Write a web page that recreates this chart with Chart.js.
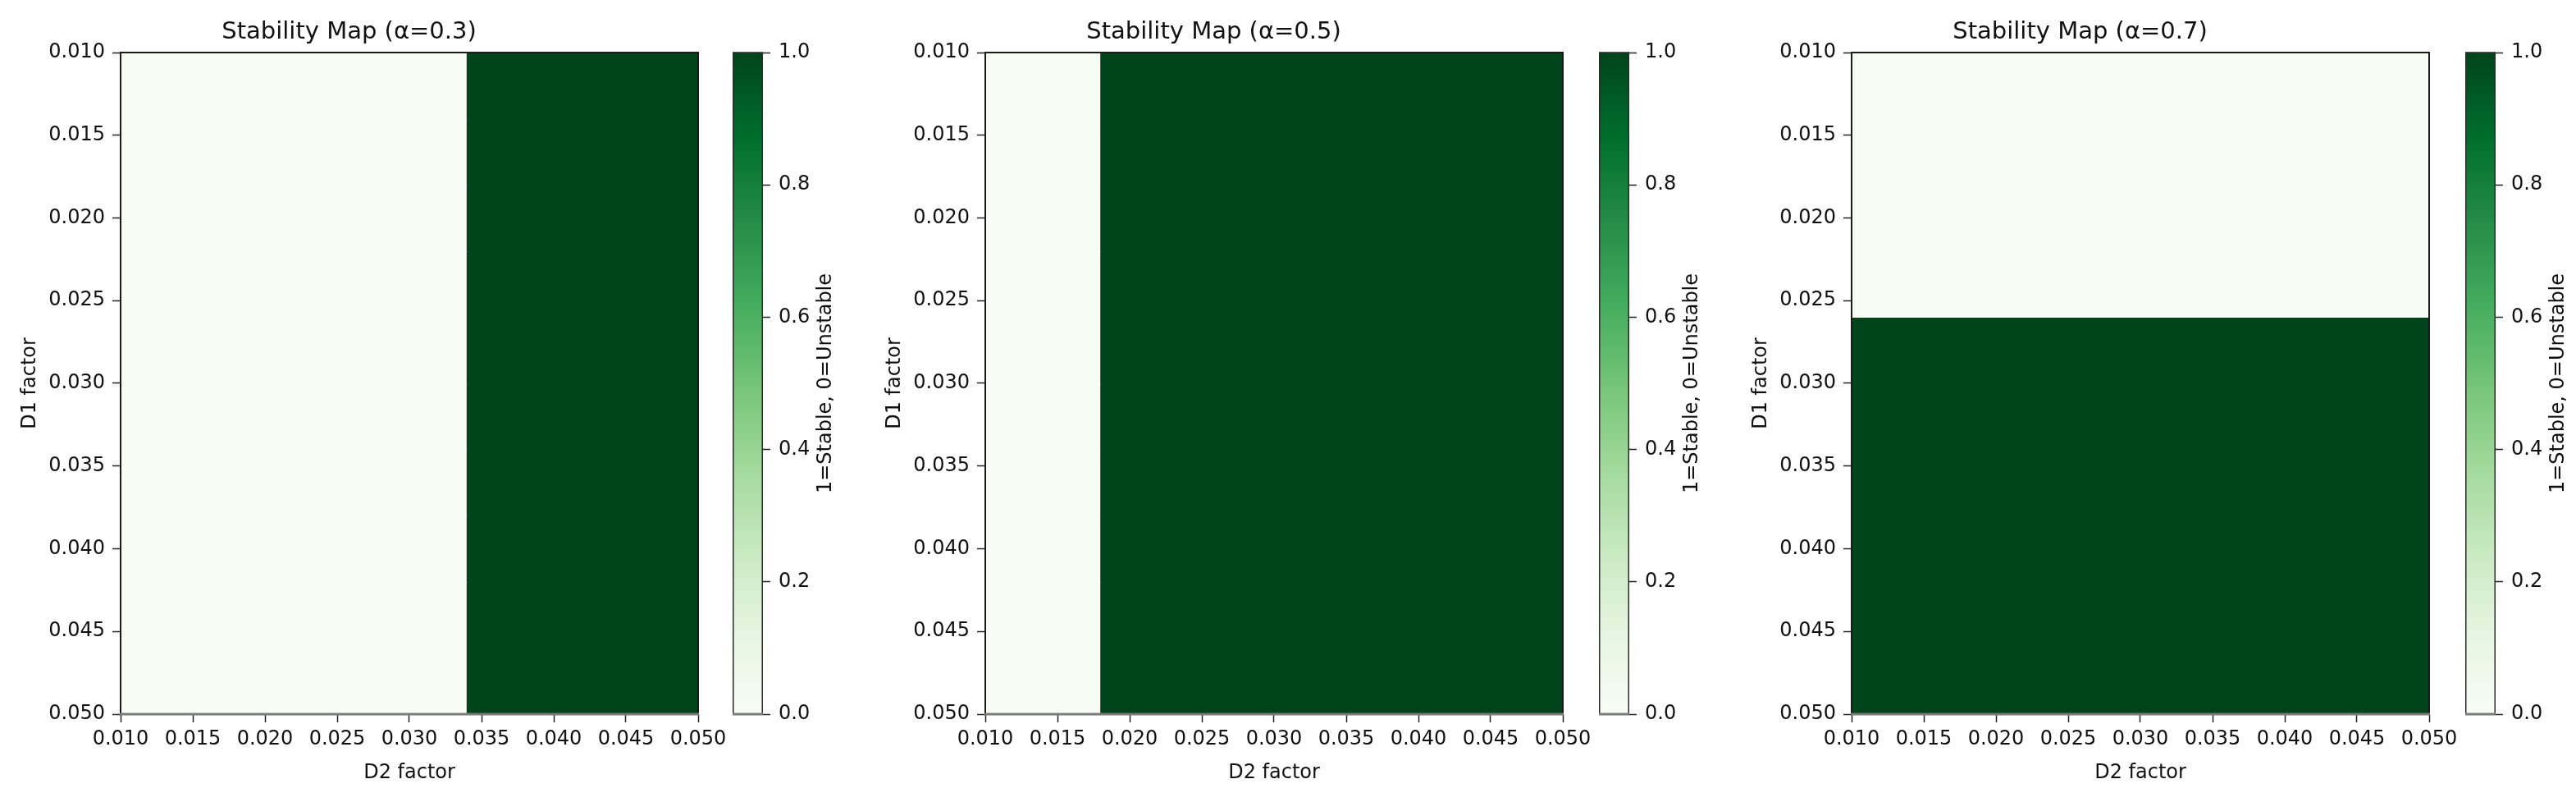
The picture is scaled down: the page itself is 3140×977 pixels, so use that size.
<!DOCTYPE html>
<html>
<head>
<meta charset="utf-8">
<title>Stability Map</title>
<script src="https://cdn.jsdelivr.net/npm/chart.js@4.4.0/dist/chart.umd.min.js"></script>
<style>
  html, body { margin: 0; padding: 0; background: #fff; }
  #wrap { position: relative; width: 3140px; height: 977px; overflow: hidden; }
  #wrap canvas { position: absolute; top: 0; }
</style>
</head>
<body>
<div id="wrap"></div>
<script>
// --- data ---
// cell boundaries of the parameter grid
const D2_EDGES = [0.010, 0.014, 0.018, 0.022, 0.026, 0.030, 0.034, 0.038, 0.042, 0.046, 0.050];
const D1_EDGES = [0.010, 0.014, 0.018, 0.022, 0.026, 0.030, 0.034, 0.038, 0.042, 0.046, 0.050];
const AXIS_TICKS = [0.010, 0.015, 0.020, 0.025, 0.030, 0.035, 0.040, 0.045, 0.050];
const CBAR_TICKS = [0.0, 0.2, 0.4, 0.6, 0.8, 1.0];
const ALPHAS = ['0.3', '0.5', '0.7'];

// 1 = stable, 0 = unstable ; rows = D1 (top -> bottom), cols = D2 (left -> right)
const STABLE_A03 = [
  [0,0,0,0,0,0,1,1,1,1],
  [0,0,0,0,0,0,1,1,1,1],
  [0,0,0,0,0,0,1,1,1,1],
  [0,0,0,0,0,0,1,1,1,1],
  [0,0,0,0,0,0,1,1,1,1],
  [0,0,0,0,0,0,1,1,1,1],
  [0,0,0,0,0,0,1,1,1,1],
  [0,0,0,0,0,0,1,1,1,1],
  [0,0,0,0,0,0,1,1,1,1],
  [0,0,0,0,0,0,1,1,1,1]
];
const STABLE_A05 = [
  [0,0,1,1,1,1,1,1,1,1],
  [0,0,1,1,1,1,1,1,1,1],
  [0,0,1,1,1,1,1,1,1,1],
  [0,0,1,1,1,1,1,1,1,1],
  [0,0,1,1,1,1,1,1,1,1],
  [0,0,1,1,1,1,1,1,1,1],
  [0,0,1,1,1,1,1,1,1,1],
  [0,0,1,1,1,1,1,1,1,1],
  [0,0,1,1,1,1,1,1,1,1],
  [0,0,1,1,1,1,1,1,1,1]
];
const STABLE_A07 = [
  [0,0,0,0,0,0,0,0,0,0],
  [0,0,0,0,0,0,0,0,0,0],
  [0,0,0,0,0,0,0,0,0,0],
  [0,0,0,0,0,0,0,0,0,0],
  [1,1,1,1,1,1,1,1,1,1],
  [1,1,1,1,1,1,1,1,1,1],
  [1,1,1,1,1,1,1,1,1,1],
  [1,1,1,1,1,1,1,1,1,1],
  [1,1,1,1,1,1,1,1,1,1],
  [1,1,1,1,1,1,1,1,1,1]
];
const MATRICES = [STABLE_A03, STABLE_A05, STABLE_A07];

// Greens colormap
const GREENS = ['#f7fcf5','#e5f5e0','#c7e9c0','#a1d99b','#74c476','#41ab5d','#238b45','#006d2c','#00441b'];

// --- layout (px) ---
const PLOT_LEFT = [147, 1201, 2257];
const CBAR_LEFT = [893, 1949, 3005];
const PLOT_TOP = 64, PLOT_BOTTOM = 870, PLOT_W = 704, CBAR_W = 37;
const Y_AXIS_W = 147, RIGHT_PAD = 50, CBAR_AXIS_W = 120, CANVAS_H = 977;
const TXT = '#111';

Chart.defaults.font.family = "'DejaVu Sans', sans-serif";
Chart.defaults.color = TXT;

const wrap = document.getElementById('wrap');

function mkCanvas(left, width){
  const c = document.createElement('canvas');
  c.width = width;
  c.height = CANVAS_H;
  c.style.left = left + 'px';
  c.style.width = width + 'px';
  c.style.height = CANVAS_H + 'px';
  wrap.appendChild(c);
  return c;
}

function cmap(v){
  return GREENS[Math.round(v * (GREENS.length - 1))];
}

const fixedTicks = list => s => { s.ticks = list.map(v => ({ value: v })); };

// frame around plot area (spines)
const framePlugin = {
  id: 'frame',
  afterDatasetsDraw(chart){
    const { ctx, chartArea: a } = chart;
    ctx.save();
    ctx.strokeStyle = '#1a1a1a';
    ctx.lineWidth = 2;
    ctx.beginPath();
    ctx.moveTo(a.left, a.bottom);
    ctx.lineTo(a.left, a.top);
    ctx.lineTo(a.right, a.top);
    ctx.lineTo(a.right, a.bottom);
    ctx.stroke();
    ctx.strokeStyle = '#7a7a7a';
    ctx.lineWidth = 3;
    ctx.beginPath();
    ctx.moveTo(a.left - 1, a.bottom);
    ctx.lineTo(a.right + 1, a.bottom);
    ctx.stroke();
    ctx.restore();
  }
};

function mkHeatmap(idx){
  const matrix = MATRICES[idx];
  const datasets = matrix.map((row, i) => ({
    data: row.map((v, j) => ({
      x: (D2_EDGES[j] + D2_EDGES[j + 1]) / 2,
      y: [D1_EDGES[i], D1_EDGES[i + 1]],
      v: v
    })),
    backgroundColor: ctx => cmap(ctx.raw.v),
    borderWidth: 0,
    inflateAmount: 0.6,
    grouped: false,
    barPercentage: 1,
    categoryPercentage: 1
  }));

  const canvas = mkCanvas(PLOT_LEFT[idx] - Y_AXIS_W, Y_AXIS_W + PLOT_W + RIGHT_PAD);
  new Chart(canvas, {
    type: 'bar',
    data: { datasets },
    options: {
      responsive: false,
      animation: false,
      devicePixelRatio: 1,
      layout: { padding: { left: 0, right: RIGHT_PAD, top: 0, bottom: 0 } },
      plugins: {
        legend: { display: false },
        tooltip: { enabled: false },
        title: {
          display: true,
          text: 'Stability Map (α=' + ALPHAS[idx] + ')',
          font: { size: 29, weight: 'normal' },
          color: TXT,
          padding: { top: 22, bottom: 7.2 }
        }
      },
      scales: {
        x: {
          type: 'linear',
          offset: false,
          min: D2_EDGES[0],
          max: D2_EDGES[D2_EDGES.length - 1],
          afterBuildTicks: fixedTicks(AXIS_TICKS),
          afterFit: s => { s.height = CANVAS_H - PLOT_BOTTOM; },
          ticks: {
            font: { size: 24 }, color: TXT, padding: 6,
            maxRotation: 0, autoSkip: false,
            callback: v => Number(v).toFixed(3)
          },
          grid: { offset: false, drawOnChartArea: false, drawTicks: true, tickLength: 10, tickWidth: 1.5, tickColor: '#222' },
          border: { display: false },
          title: { display: true, text: 'D2 factor', font: { size: 24 }, color: TXT, padding: { top: 4, bottom: 20.6 } }
        },
        y: {
          type: 'linear',
          reverse: true,
          min: D1_EDGES[0],
          max: D1_EDGES[D1_EDGES.length - 1],
          afterBuildTicks: fixedTicks(AXIS_TICKS),
          afterFit: s => { s.width = Y_AXIS_W; },
          ticks: {
            font: { size: 24 }, color: TXT, padding: 9, autoSkip: false,
            callback: v => Number(v).toFixed(3)
          },
          grid: { drawOnChartArea: false, drawTicks: true, tickLength: 10, tickWidth: 1.5, tickColor: '#222' },
          border: { display: false },
          title: { display: true, text: 'D1 factor', font: { size: 24 }, color: TXT, padding: { top: 22.6, bottom: 4 } }
        }
      }
    },
    plugins: [framePlugin]
  });
}

function cbarGradient(chart){
  const { ctx, chartArea } = chart;
  if(!chartArea) return GREENS[4];
  const g = ctx.createLinearGradient(0, chartArea.bottom, 0, chartArea.top);
  GREENS.forEach((c, i) => g.addColorStop(i / (GREENS.length - 1), c));
  return g;
}

// outline + rotated label of the colorbar
const cbarPlugin = {
  id: 'cbarDeco',
  afterDatasetsDraw(chart){
    const { ctx, chartArea: a } = chart;
    ctx.save();
    ctx.strokeStyle = '#2a2a2a';
    ctx.lineWidth = 1.5;
    ctx.strokeRect(a.left + 0.75, a.top, a.right - a.left - 1.5, a.bottom - a.top);
    ctx.strokeStyle = '#7a7a7a';
    ctx.lineWidth = 3;
    ctx.beginPath();
    ctx.moveTo(a.left, a.bottom);
    ctx.lineTo(a.right, a.bottom);
    ctx.stroke();
    ctx.translate(a.right + 77, (a.top + a.bottom) / 2);
    ctx.rotate(-Math.PI / 2);
    ctx.fillStyle = TXT;
    ctx.font = "24px 'DejaVu Sans', sans-serif";
    ctx.textAlign = 'center';
    ctx.textBaseline = 'middle';
    ctx.fillText('1=Stable, 0=Unstable', 0, 0);
    ctx.restore();
  }
};

function mkColorbar(idx){
  const canvas = mkCanvas(CBAR_LEFT[idx], CBAR_W + CBAR_AXIS_W);
  new Chart(canvas, {
    type: 'bar',
    data: {
      labels: ['cbar'],
      datasets: [{
        data: [[CBAR_TICKS[0], CBAR_TICKS[CBAR_TICKS.length - 1]]],
        backgroundColor: ctx => cbarGradient(ctx.chart),
        borderWidth: 0,
        barPercentage: 1,
        categoryPercentage: 1
      }]
    },
    options: {
      responsive: false,
      animation: false,
      devicePixelRatio: 1,
      layout: { padding: { left: 0, right: 0, top: PLOT_TOP, bottom: CANVAS_H - PLOT_BOTTOM } },
      plugins: { legend: { display: false }, tooltip: { enabled: false } },
      scales: {
        x: { display: false },
        y: {
          position: 'right',
          min: CBAR_TICKS[0],
          max: CBAR_TICKS[CBAR_TICKS.length - 1],
          afterBuildTicks: fixedTicks(CBAR_TICKS),
          afterFit: s => { s.width = CBAR_AXIS_W; },
          ticks: { font: { size: 24 }, color: TXT, padding: 10, callback: v => Number(v).toFixed(1) },
          grid: { drawOnChartArea: false, drawTicks: true, tickLength: 9, tickWidth: 1.5, tickColor: '#222' },
          border: { display: false }
        }
      }
    },
    plugins: [cbarPlugin]
  });
}

window.addEventListener('load', () => {
  [0, 1, 2].forEach(i => {
    mkHeatmap(i);
    mkColorbar(i);
  });
});
</script>
</body>
</html>
